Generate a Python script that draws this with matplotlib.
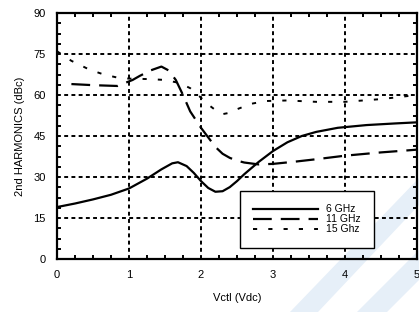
import matplotlib
matplotlib.use("Agg")
import matplotlib.pyplot as plt
from matplotlib.patches import Polygon
from matplotlib.ticker import MultipleLocator

plt.rcParams['font.family'] = ['Liberation Sans', 'DejaVu Sans']
plt.rcParams['lines.scale_dashes'] = False

# Data
x6 = [0, 0.25, 0.5, 0.75, 1.0, 1.25, 1.45, 1.6, 1.68, 1.8, 1.9, 2.0, 2.1, 2.2, 2.3,
      2.4, 2.5, 2.6, 2.8, 3.0, 3.2, 3.4, 3.6, 3.9, 4.3, 4.7, 5.0]
y6 = [19, 20.3, 21.8, 23.5, 25.8, 29.4, 32.8, 35.0, 35.4, 34, 31.5, 28.5, 26, 24.6, 24.8,
      26.3, 28.5, 31, 35.5, 39.5, 42.7, 45, 46.5, 48, 49, 49.6, 50]

x11 = [0.2, 0.5, 0.84, 1.05, 1.15, 1.3, 1.45, 1.55, 1.65, 1.75, 1.85, 2.0, 2.1, 2.2,
       2.3, 2.4, 2.5, 2.6, 2.8, 3.0, 3.3, 3.6, 4.0, 4.5, 5.0]
y11 = [64, 63.6, 63.3, 65.5, 67, 69, 70.4, 69, 65.5, 60, 54, 48, 44.5, 41,
       38.5, 37, 36, 35.3, 34.6, 34.8, 35.6, 36.5, 37.8, 39, 40]

x15 = [0, 0.2, 0.45, 0.65, 0.85, 1.0, 1.3, 1.5, 1.7, 1.85, 2.0, 2.1, 2.2, 2.3, 2.4,
       2.5, 2.7, 2.9, 3.2, 3.6, 4.0, 4.5, 5.0]
y15 = [76, 72.5, 69.3, 67.5, 66.3, 66, 65.8, 65.5, 64.4, 62.5, 59, 56.5, 54.5, 53, 53.5,
       54.8, 56.8, 57.8, 58, 57.5, 57.5, 58.5, 60]

labels = ['6 GHz', '11 GHz', '15 Ghz']
xticks = [0, 1, 2, 3, 4, 5]
yticks = [0, 15, 30, 45, 60, 75, 90]

fig = plt.figure(figsize=(4.19, 3.12), dpi=100)

W, H = 419.0, 312.0

# faint watermark stripes in a background axes (pixel coordinates)
bg = fig.add_axes([0, 0, 1, 1], zorder=-1)
bg.set_xlim(0, W)
bg.set_ylim(H, 0)
bg.axis('off')
for pts in ([(290, 312), (318, 312), (419, 205), (419, 178)],
            [(357, 312), (387, 312), (419, 280), (419, 250)]):
    bg.add_patch(Polygon(pts, closed=True, facecolor='#e6eff8', edgecolor='none'))

ax = fig.add_axes([57 / W, 1 - 259 / H, 360 / W, 246 / H], zorder=1)
ax.set_facecolor('none')

ax.plot(x6, y6, color='black', lw=1.6, label=labels[0], zorder=3)
ax.plot(x11, y11, color='black', lw=1.6, dashes=(13.5, 6.5), label=labels[1], zorder=3)
ax.plot(x15, y15, color='black', lw=1.4, dashes=(3, 8), label=labels[2], zorder=3)

ax.set_xlim(0, 5)
ax.set_ylim(0, 90)
ax.set_xticks(xticks)
ax.set_yticks(yticks)
ax.xaxis.set_minor_locator(MultipleLocator(0.25))
ax.yaxis.set_minor_locator(MultipleLocator(3.75))
ax.tick_params(which='both', direction='in', top=True, right=True, labelsize=8, colors='black')
ax.tick_params(which='major', length=0, pad=8)
ax.tick_params(which='minor', length=3, width=1.4)
ax.grid(True, which='major', color='black', lw=1.4, linestyle=(0, (2.8, 2.4)))
for s in ax.spines.values():
    s.set_linewidth(1.6)

ax.set_xlabel('Vctl (Vdc)', fontsize=8, labelpad=9)
ax.set_ylabel('2nd HARMONICS (dBc)', fontsize=8, labelpad=6)

leg = ax.legend(loc='lower left', bbox_to_anchor=(0.507, 0.045), fontsize=7.5,
                frameon=True, fancybox=False, edgecolor='black', framealpha=1,
                handlelength=6.2, handletextpad=0.8, labelspacing=0.0, borderpad=1.3,
                borderaxespad=0)
leg.get_frame().set_linewidth(1.0)

fig.savefig('out.png', dpi=100)
